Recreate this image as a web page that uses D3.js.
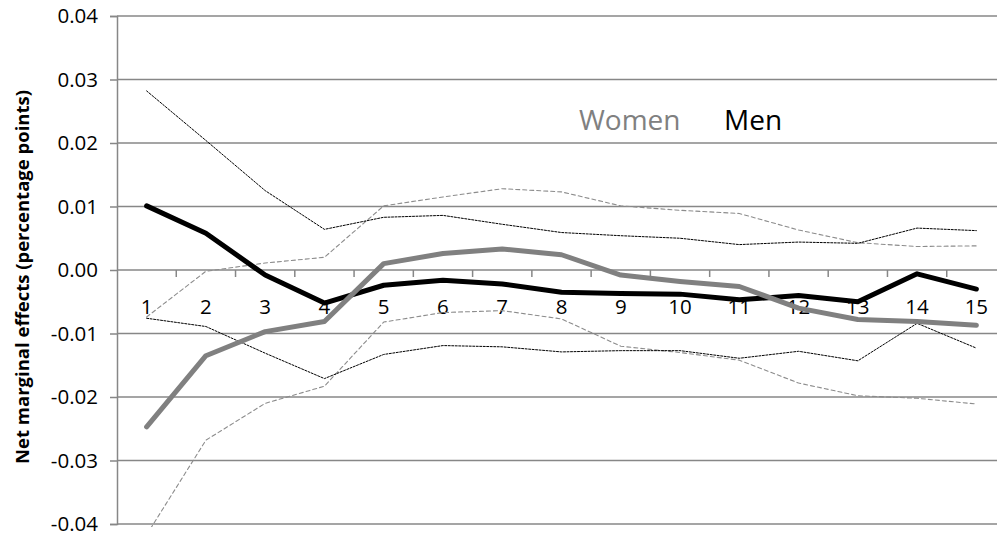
<!DOCTYPE html>
<html>
<head>
<meta charset="utf-8">
<script src="https://cdn.jsdelivr.net/npm/d3@7"></script>
<style>
  body { margin: 0; background: #fff; }
  svg { display: block; font-family: "Open Sans", "Noto Sans", sans-serif; }
</style>
</head>
<body>
<svg id="chart" width="997" height="538"></svg>
<script>
// categories on the x axis
var categories = [1, 2, 3, 4, 5, 6, 7, 8, 9, 10, 11, 12, 13, 14, 15];

// point estimates
var men   = [0.0101, 0.0058, -0.0008, -0.0052, -0.0024, -0.0016, -0.0022, -0.0035, -0.0037, -0.0038, -0.0047, -0.0040, -0.0050, -0.0006, -0.0030];
var women = [-0.0247, -0.0135, -0.0097, -0.0081, 0.0010, 0.0026, 0.0033, 0.0024, -0.0008, -0.0018, -0.0026, -0.0060, -0.0078, -0.0081, -0.0087];

// confidence bands
var menUpper   = [0.0282, 0.0204, 0.0125, 0.0064, 0.0083, 0.0086, 0.0072, 0.0059, 0.0054, 0.0050, 0.0040, 0.0044, 0.0042, 0.0066, 0.0062];
var menLower   = [-0.0076, -0.0089, -0.0131, -0.0171, -0.0133, -0.0119, -0.0121, -0.0129, -0.0127, -0.0127, -0.0139, -0.0128, -0.0143, -0.0084, -0.0123];
var womenUpper = [-0.0074, -0.0002, 0.0011, 0.0020, 0.0101, 0.0115, 0.0128, 0.0123, 0.0101, 0.0094, 0.0089, 0.0063, 0.0043, 0.0037, 0.0038];
var womenLower = [-0.0417, -0.0268, -0.0210, -0.0183, -0.0082, -0.0067, -0.0064, -0.0077, -0.0120, -0.0130, -0.0142, -0.0178, -0.0198, -0.0202, -0.0211];

var yTicks = [-0.04, -0.03, -0.02, -0.01, 0, 0.01, 0.02, 0.03, 0.04];

var svg = d3.select("#chart");
var gridColor = "#878787";
var fmt = d3.format(".2f");

var x = d3.scaleBand().domain(categories).range([117, 1006]).padding(0);
var y = d3.scaleLinear().domain([-0.04, 0.04]).range([524, 16]);

// horizontal gridlines
svg.append("g")
    .selectAll("line")
    .data(yTicks)
    .enter().append("line")
    .attr("x1", 117)
    .attr("x2", 1006)
    .attr("y1", function(d) { return y(d); })
    .attr("y2", function(d) { return y(d); })
    .attr("stroke", gridColor)
    .attr("stroke-width", 1.5);

// y axis (plain hyphen for negatives, like the original)
var yAxis = svg.append("g")
    .attr("transform", "translate(117,0)")
    .call(d3.axisLeft(y).tickValues(yTicks).tickSize(7).tickPadding(12)
        .tickFormat(function(d) { return fmt(d).replace("\u2212", "-"); }));
yAxis.select(".domain").attr("stroke", gridColor).attr("stroke-width", 1.5);
yAxis.selectAll(".tick line").attr("stroke", gridColor).attr("stroke-width", 1.5);
yAxis.selectAll("text")
    .attr("font-size", 20.5)
    .attr("font-family", "Open Sans")
    .attr("fill", "#000");

// x axis at zero, tick marks on category boundaries
var xAxis = svg.append("g")
    .attr("transform", "translate(0," + y(0) + ")");
xAxis.selectAll("line")
    .data(categories)
    .enter().append("line")
    .attr("x1", function(d) { return x(d) + x.bandwidth(); })
    .attr("x2", function(d) { return x(d) + x.bandwidth(); })
    .attr("y1", 0)
    .attr("y2", 7)
    .attr("stroke", gridColor)
    .attr("stroke-width", 1.5);
xAxis.selectAll("text")
    .data(categories)
    .enter().append("text")
    .attr("x", function(d) { return x(d) + x.bandwidth() / 2; })
    .attr("y", 44)
    .attr("text-anchor", "middle")
    .attr("font-size", 20.5)
    .attr("fill", "#000")
    .text(function(d) { return d; });

// y axis title
svg.append("text")
    .attr("transform", "translate(29,277) rotate(-90)")
    .attr("text-anchor", "middle")
    .attr("font-size", 18.5)
    .attr("font-weight", "bold")
    .attr("fill", "#000")
    .text("Net marginal effects (percentage points)");

// clip for the data lines
svg.append("clipPath").attr("id", "plotClip")
    .append("rect")
    .attr("x", 117).attr("y", 10).attr("width", 890).attr("height", 517);

var line = d3.line()
    .x(function(d, i) { return x(categories[i]) + x.bandwidth() / 2; })
    .y(function(d) { return y(d); });

var plot = svg.append("g").attr("clip-path", "url(#plotClip)");

var series = [
    {values: womenUpper, color: "#8c8c8c", width: 1.1, dash: "4,3"},
    {values: womenLower, color: "#8c8c8c", width: 1.1, dash: "4,3"},
    {values: menUpper, color: "#000", width: 1, dash: "2,1.5"},
    {values: menLower, color: "#000", width: 1, dash: "2,1.5"},
    {values: men, color: "#000", width: 5, dash: null},
    {values: women, color: "#808080", width: 5, dash: null}
];

plot.selectAll("path")
    .data(series)
    .enter().append("path")
    .attr("d", function(d) { return line(d.values); })
    .attr("fill", "none")
    .attr("stroke", function(d) { return d.color; })
    .attr("stroke-width", function(d) { return d.width; })
    .attr("stroke-dasharray", function(d) { return d.dash; })
    .attr("stroke-linejoin", "round")
    .attr("stroke-linecap", "round");

// legend labels
svg.append("text")
    .attr("x", 579).attr("y", 130)
    .attr("font-size", 28)
    .attr("fill", "#808080")
    .text("Women");
svg.append("text")
    .attr("x", 724).attr("y", 130)
    .attr("font-size", 28)
    .attr("fill", "#000")
    .text("Men");
</script>
</body>
</html>
